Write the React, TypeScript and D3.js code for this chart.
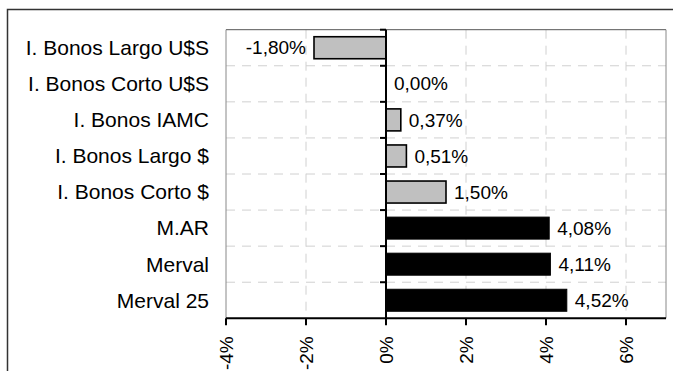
import React from "react";
import * as d3 from "d3";

const categories = [
  "I. Bonos Largo U$S",
  "I. Bonos Corto U$S",
  "I. Bonos IAMC",
  "I. Bonos Largo $",
  "I. Bonos Corto $",
  "M.AR",
  "Merval",
  "Merval 25",
];
const values = [-1.8, 0.0, 0.37, 0.51, 1.5, 4.08, 4.11, 4.52];
const barColors = ["#c0c0c0", "#c0c0c0", "#c0c0c0", "#c0c0c0", "#c0c0c0", "#000000", "#000000", "#000000"];
const tickValues = [-4, -2, 0, 2, 4, 6];
const gridValues = [-2, 2, 4, 6];

const W = 673;
const H = 371;
const plot = { left: 226, right: 666, top: 29.7, bottom: 318.3 };
const FONT = "'Liberation Sans', Arial, sans-serif";

function fmt(v: number) {
  return v.toFixed(2).replace(".", ",") + "%";
}

export default function App() {
  const x = d3.scaleLinear().domain([-4, 7]).range([plot.left, plot.right]);
  const y = d3
    .scaleBand<string>()
    .domain(categories)
    .range([plot.top, plot.bottom])
    .paddingInner(0.39)
    .paddingOuter(0.195);
  const step = y.step();
  const boundaries = d3.range(categories.length + 1).map((i) => plot.top + i * step);
  const x0 = x(0);

  return (
    <svg
      width={W}
      height={H}
      style={{ position: "absolute", left: 0, top: 0, background: "#fff" }}
      fontFamily={FONT}
    >
      <rect x={0} y={0} width={W} height={H} fill="#fff" />
      {/* outer frame */}
      <rect x={7.5} y={9.5} width={800} height={500} fill="none" stroke="#333" strokeWidth={1.5} />

      {/* gridlines */}
      {boundaries.slice(1, -1).map((b, i) => (
        <line
          key={"h" + i}
          x1={plot.left}
          x2={plot.right}
          y1={b}
          y2={b}
          stroke="#d0d0d0"
          strokeWidth={1}
          strokeDasharray="9,7"
        />
      ))}
      {gridValues.map((g) => (
        <line
          key={"v" + g}
          x1={x(g)}
          x2={x(g)}
          y1={plot.top}
          y2={plot.bottom}
          stroke="#d0d0d0"
          strokeWidth={1}
          strokeDasharray="9,7"
        />
      ))}

      {/* plot border */}
      <line x1={plot.left} x2={plot.right} y1={plot.top} y2={plot.top} stroke="#555" strokeWidth={1} />
      <line x1={plot.left} x2={plot.left} y1={plot.top} y2={plot.bottom} stroke="#888" strokeWidth={1} />
      <line x1={plot.right} x2={plot.right} y1={plot.top} y2={plot.bottom} stroke="#888" strokeWidth={1} />

      {/* bars */}
      {categories.map((c, i) => {
        const v = values[i];
        const xa = Math.min(x(v), x0);
        const w = Math.abs(x(v) - x0);
        const yb = y(c) as number;
        const gray = barColors[i] !== "#000000";
        return w > 0 ? (
          <rect
            key={"b" + i}
            x={xa}
            y={yb}
            width={w}
            height={y.bandwidth()}
            fill={barColors[i]}
            stroke="#000"
            strokeWidth={gray ? 1.6 : 1}
          />
        ) : null;
      })}

      {/* value labels */}
      {categories.map((c, i) => {
        const v = values[i];
        const yc = (y(c) as number) + y.bandwidth() / 2;
        const neg = v < 0;
        return (
          <text
            key={"l" + i}
            x={neg ? x(v) - 8 : x(v) + 8}
            y={yc}
            dy="0.35em"
            textAnchor={neg ? "end" : "start"}
            fontSize={19}
            fill="#000"
          >
            {fmt(v)}
          </text>
        );
      })}

      {/* zero axis */}
      <line x1={x0} x2={x0} y1={plot.top} y2={plot.bottom} stroke="#000" strokeWidth={2} />
      {boundaries.slice(0, -1).map((b, i) => (
        <line key={"t" + i} x1={x0 - 6} x2={x0} y1={b} y2={b} stroke="#000" strokeWidth={2} />
      ))}

      {/* bottom axis */}
      <line x1={plot.left} x2={plot.right} y1={plot.bottom} y2={plot.bottom} stroke="#000" strokeWidth={2} />
      {tickValues.map((t) => (
        <g key={"xt" + t}>
          <line x1={x(t)} x2={x(t)} y1={plot.bottom} y2={plot.bottom + 7} stroke="#000" strokeWidth={2} />
          <text
            transform={`translate(${x(t)},${plot.bottom + 18}) rotate(-90)`}
            textAnchor="end"
            dy="0.35em"
            fontSize={19}
            fill="#000"
          >
            {t + "%"}
          </text>
        </g>
      ))}

      {/* category labels */}
      {categories.map((c) => (
        <text
          key={"c" + c}
          x={209}
          y={(y(c) as number) + y.bandwidth() / 2}
          dy="0.35em"
          textAnchor="end"
          fontSize={21}
          fill="#000"
        >
          {c}
        </text>
      ))}
    </svg>
  );
}
